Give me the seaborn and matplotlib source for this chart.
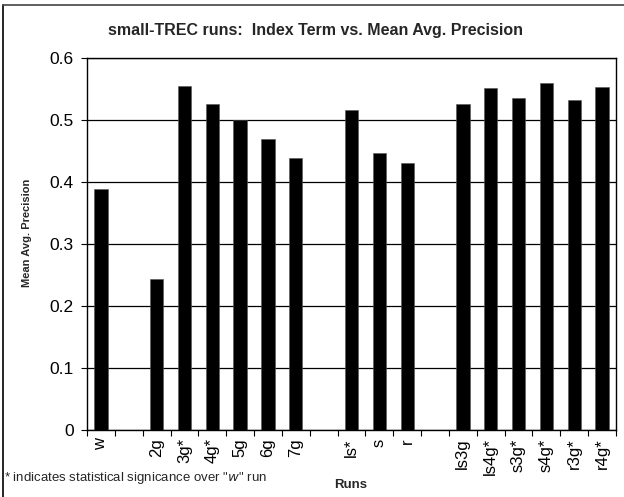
import numpy as np
import pandas as pd
import matplotlib
matplotlib.use("Agg")
import matplotlib.pyplot as plt
from matplotlib.lines import Line2D
import seaborn as sns

# Run names in plotting order; empty strings are spacer slots between run groups
run_labels = ["w", "", "2g", "3g*", "4g*", "5g", "6g", "7g", "",
              "ls*", "s", "r", "",
              "ls3g", "ls4g*", "s3g*", "s4g*", "r3g*", "r4g*"]
mean_avg_precision = [0.388, np.nan, 0.243, 0.555, 0.526, 0.500, 0.469, 0.438, np.nan,
                      0.516, 0.447, 0.431, np.nan,
                      0.526, 0.551, 0.536, 0.560, 0.532, 0.553]
y_ticks = [0, 0.1, 0.2, 0.3, 0.4, 0.5, 0.6]
y_tick_labels = ["0", "0.1", "0.2", "0.3", "0.4", "0.5", "0.6"]

sns.set_theme(style="white")
plt.rcParams["font.family"] = ["Liberation Sans", "DejaVu Sans"]

df = pd.DataFrame({"slot": list(range(len(run_labels))),
                   "precision": mean_avg_precision})

W, H = 624, 497
fig = plt.figure(figsize=(W / 100, H / 100), dpi=100)
ax = fig.add_axes([87 / W, 1 - 430 / H, (616 - 87) / W, (430 - 58) / H])

sns.barplot(data=df, x="slot", y="precision", order=list(range(len(run_labels))),
            color="black", saturation=1, width=0.48, edgecolor="#555555",
            linewidth=0.4, ax=ax, zorder=3)

n = len(run_labels)
ax.set_xlim(-0.5, n - 0.5)
ax.set_ylim(0, 0.6)

# y axis: gridlines at every 0.1
ax.set_yticks(y_ticks)
ax.set_yticklabels(y_tick_labels, fontsize=12.5)
ax.yaxis.grid(True, color="black", linewidth=0.9, zorder=0)
ax.tick_params(axis="y", direction="out", length=4.5, width=0.8, color="black",
               pad=5, left=True, labelcolor="black")

# x axis: tick marks on slot boundaries, labels at slot centres
ax.set_xticks(np.arange(-0.5, n, 1.0))
ax.set_xticklabels([])
ax.set_xticks(np.arange(n), minor=True)
ax.set_xticklabels(run_labels, minor=True, rotation=90, fontsize=12,
                   color="black")
ax.tick_params(axis="x", which="major", direction="out", length=4, width=0.8,
               color="black", bottom=True)
ax.tick_params(axis="x", which="minor", length=0, pad=6, bottom=True)

ax.set_xlabel("")
ax.set_ylabel("")
for sp in ax.spines.values():
    sp.set_visible(True)
    sp.set_color("black")
    sp.set_linewidth(1.0)

fig.text(316 / W, 1 - 31 / H, "small-TREC runs:  Index Term vs. Mean Avg. Precision",
         ha="center", va="center", fontsize=11.5, fontweight="bold")
fig.text(27 / W, 1 - 233 / H, "Mean Avg. Precision", rotation=90,
         ha="center", va="center", fontsize=8, fontweight="bold")
fig.text(351 / W, 1 - 485 / H, "Runs", ha="center", va="center",
         fontsize=9.5, fontweight="bold")
fig.text(4 / W, 1 - 478 / H,
         "* indicates statistical signicance over \"$\\it{w}$\" run",
         ha="left", va="center", fontsize=9.5)

# chart frame
fig.add_artist(Line2D([3 / W, 3 / W], [0, 1 - 5 / H], color="black", linewidth=1.2,
                      transform=fig.transFigure))
fig.add_artist(Line2D([3 / W, 1], [1 - 5 / H, 1 - 5 / H], color="#444444",
                      linewidth=1.2, transform=fig.transFigure))

fig.savefig("out.png", dpi=100, facecolor="white")
